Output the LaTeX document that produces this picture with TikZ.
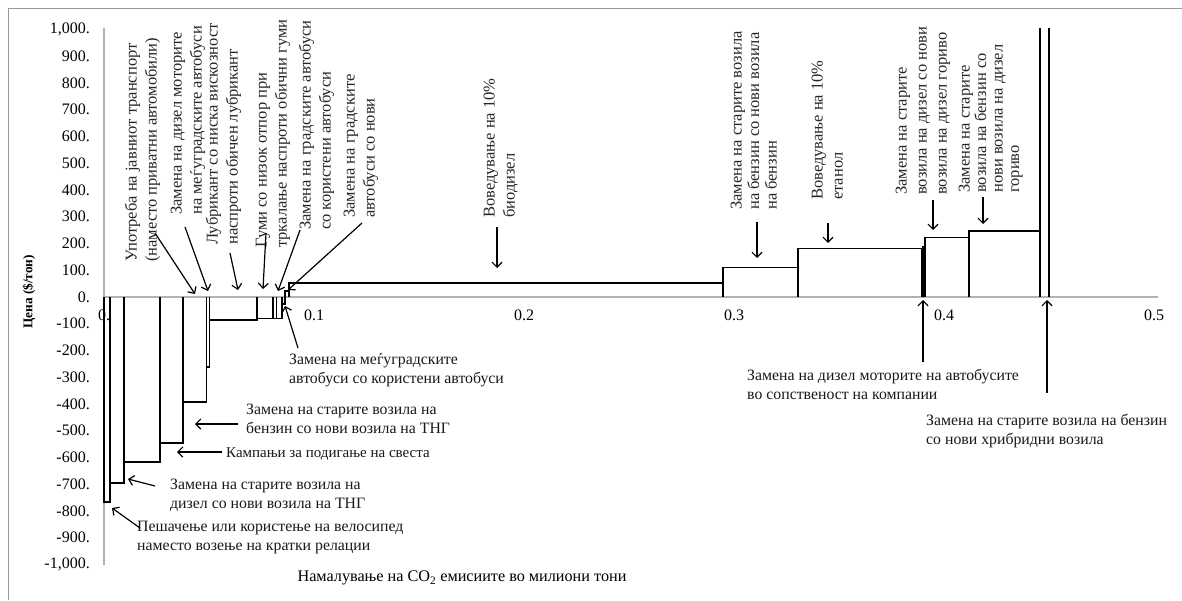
\documentclass[tikz,border=0pt]{standalone}
\usepackage{fontspec}
\setmainfont{Liberation Serif}
\usetikzlibrary{arrows.meta}
\begin{document}
\begin{tikzpicture}[x=1pt,y=-1pt,
  frame/.style={draw=black!40, line width=1.4pt},
  axisline/.style={draw=black!30, line width=1.2pt},
  bar/.style={draw=black, line width=1.5pt},
  arr/.style={draw=black, line width=1.2pt, -{Straight Barb[length=5pt,width=10pt]}},
  vlab/.style={rotate=90, anchor=north west, align=left, inner sep=0pt, text=black!85,
    font=\fontsize{16.5}{20}\selectfont},
  hlab/.style={anchor=north west, align=left, inner sep=0pt, text=black!90,
    font=\fontsize{15.8}{19}\selectfont},
  ytick/.style={anchor=east, inner sep=0pt, font=\fontsize{16}{18}\selectfont},
  xtick/.style={anchor=center, inner sep=0pt, font=\fontsize{16}{18}\selectfont}]
\useasboundingbox (0,0) rectangle (1182,600);
\fill[white] (0,0) rectangle (1182,600);
% frame
\draw[frame] (8.5,600) -- (8.5,8.5) -- (1182,8.5);
% axes
\draw[axisline] (104,28) -- (104,565);
\draw[axisline] (104,297) -- (1158,297);
% y tick labels
\foreach \v/\t in {1000/{1,000.},900/900.,800/800.,700/700.,600/600.,500/500.,400/400.,300/300.,200/200.,100/100.,0/0.,-100/-100.,-200/-200.,-300/-300.,-400/-400.,-500/-500.,-600/-600.,-700/-700.,-800/-800.,-900/-900.,-1000/{-1,000.}}
  \node[ytick] at (90,{297-\v*0.2675}) {\t};
% x tick labels
\foreach \v/\t in {0/0.,1/0.1,2/0.2,3/0.3,4/0.4,5/0.5}
  \node[xtick] at ({104+210*\v},315) {\t};
% axis titles
\node[rotate=90, inner sep=0pt, font=\bfseries\fontsize{13.3}{16}\selectfont] (ytitle) at (29,292) {Цена (\$/тон)};
\node[inner sep=0pt, font=\fontsize{16.2}{18}\selectfont] (xtitle) at (462,578) {Намалување на CO\textsubscript{2} емисиите во милиони тони};
% bars
\draw[bar] (104,297) -- (104,502) -- (110,502) -- (110,297);
\draw[bar] (110,297) -- (110,483) -- (124,483) -- (124,297);
\draw[bar] (124,297) -- (124,462) -- (160,462) -- (160,297);
\draw[bar] (160,297) -- (160,443) -- (183,443) -- (183,297);
\draw[bar] (183,297) -- (183,402) -- (206.5,402) -- (206.5,297);
\draw[bar] (206.5,297) -- (206.5,367) -- (209.5,367) -- (209.5,297);
\draw[bar] (209.5,297) -- (209.5,320) -- (257,320) -- (257,297);
\draw[bar] (257,297) -- (257,318.5) -- (273,318.5) -- (273,297);
\draw[bar] (273,297) -- (273,318.5) -- (276.5,318.5) -- (276.5,297);
\draw[bar] (276.5,297) -- (276.5,318.5) -- (282,318.5) -- (282,297);
\draw[bar] (282,297) -- (282,304) -- (285,304) -- (285,297);
\draw[bar] (285,297) -- (285,291) -- (289,291) -- (289,297);
\draw[bar] (289,297) -- (289,283) -- (723,283) -- (723,297);
\draw[bar] (723,297) -- (723,267.5) -- (798,267.5) -- (798,297);
\draw[bar] (798,297) -- (798,248.5) -- (922,248.5) -- (922,297);
\draw[bar, line width=3pt] (923.5,297) -- (923.5,246);
\draw[bar] (925,297) -- (925,237.5) -- (969,237.5) -- (969,297);
\draw[bar] (969,297) -- (969,231) -- (1040,231) -- (1040,297);
\draw[bar] (1040,297) -- (1040,28);
\draw[bar] (1049,297) -- (1049,28);
% rotated labels
\node[vlab] (lA) at (124.5,262) {Употреба на јавниот транспорт\\(наместо приватни автомобили)};
\node[vlab] (lB) at (170.5,215) {Замена на дизел моторите\\на меѓуградските автобуси};
\node[vlab] (lC) at (205.5,245) {Лубрикант со ниска вискозност\\наспроти обичен лубрикант};
\node[vlab] (lD) at (255.5,248) {Гуми со низок отпор при\\тркалање наспроти обични гуми};
\node[vlab] (lE) at (298.5,230) {Замена на градските автобуси\\со користени автобуси};
\node[vlab] (lF) at (343.5,218) {Замена на градските\\автобуси со нови};
\node[vlab] (lG) at (483.5,218) {Воведување на 10\%\\биодизел};
\node[vlab, font=\fontsize{16.5}{17.5}\selectfont] (lH) at (730.5,210) {Замена на старите возила\\на бензин со нови возила\\на бензин};
\node[vlab] (lI) at (811.5,200) {Воведување на 10\%\\етанол};
\node[vlab] (lJ) at (895.5,195) {Замена на старите\\возила на дизел со нови\\возила на дизел гориво};
\node[vlab, font=\fontsize{16.5}{16.5}\selectfont] (lK) at (958.5,193) {Замена на старите\\возила на бензин со\\нови возила на дизел\\гориво};
% horizontal labels
\node[hlab] (lb1) at (289,353) {Замена на меѓуградските\\автобуси со користени автобуси};
\node[hlab] (lb2) at (246,404) {Замена на старите возила на\\бензин со нови возила на ТНГ};
\node[hlab, font=\fontsize{15}{18}\selectfont] (lb3) at (226,447) {Кампањи за подигање на свеста};
\node[hlab] (lb4) at (170,479) {Замена на старите возила на\\дизел со нови возила на ТНГ};
\node[hlab] (lb5) at (137,521) {Пешачење или користење на велосипед\\наместо возење на кратки релации};
\node[hlab] (lb6) at (747,369) {Замена на дизел моторите на автобусите\\во сопственост на компании};
\node[hlab] (lb7) at (926,414) {Замена на старите возила на бензин\\со нови хрибридни возила};
% arrow end points
\coordinate (sA) at (155,233); \coordinate (tA) at (195,294);
\coordinate (sB) at (185,227); \coordinate (tB) at (208,291);
\coordinate (sC) at (230,253); \coordinate (tC) at (238,290);
\coordinate (sD) at (266,233); \coordinate (tD) at (263,289);
\coordinate (sE) at (300,230); \coordinate (tE) at (278,291);
\coordinate (sF) at (362,223); \coordinate (tF) at (288,290);
\coordinate (sG) at (497,227); \coordinate (tG) at (497,268);
\coordinate (sH) at (757,222); \coordinate (tH) at (757,258);
\coordinate (sI) at (828,223); \coordinate (tI) at (828,243);
\coordinate (sJ) at (933,200); \coordinate (tJ) at (933,230);
\coordinate (sK) at (983,197); \coordinate (tK) at (983,224);
\coordinate (s1) at (298,348); \coordinate (t1) at (285,306);
\coordinate (s2) at (238,424); \coordinate (t2) at (195,424);
\coordinate (s3) at (222,452); \coordinate (t3) at (177,452);
\coordinate (s4) at (155,486); \coordinate (t4) at (128,479);
\coordinate (s5) at (140,528); \coordinate (t5) at (112,508);
\coordinate (s6) at (923,362); \coordinate (t6) at (923,300);
\coordinate (s7) at (1047,393); \coordinate (t7) at (1047,300);
\foreach \a in {A,B,C,D,E,F,G,H,I,J,K,1,2,3,4,5,6,7}
  \draw[arr] (s\a) -- (t\a);
\end{tikzpicture}
\end{document}
